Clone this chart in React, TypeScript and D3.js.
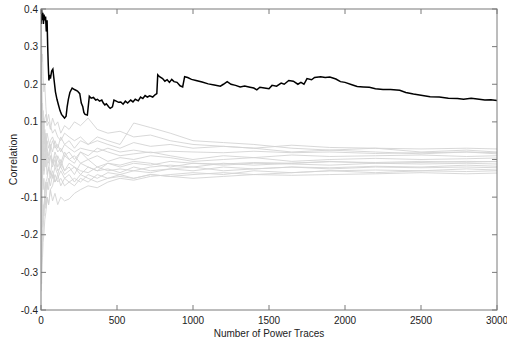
import React from "react";
import * as d3 from "d3";

const W = 507;
const H = 344;
const M = { left: 41, right: 10, top: 9, bottom: 34 };

const xTicks = [0, 500, 1000, 1500, 2000, 2500, 3000];
const yTicks = [-0.4, -0.3, -0.2, -0.1, 0, 0.1, 0.2, 0.3, 0.4];
const yTickLabels = ["-0.4", "-0.3", "-0.2", "-0.1", "0", "0.1", "0.2", "0.3", "0.4"];

const xLabel = "Number of Power Traces";
const yLabel = "Correlation";

// correct-key trace: [number of traces, correlation]
const correctKey: [number, number][] = [
  [1, 0.36], [4, 0.4], [8, 0.37], [12, 0.39], [16, 0.36], [20, 0.385], [25, 0.37], [30, 0.38],
  [35, 0.34], [40, 0.37], [44, 0.3], [48, 0.25], [52, 0.21], [57, 0.225], [62, 0.215], [70, 0.235],
  [78, 0.24], [85, 0.215], [95, 0.18], [105, 0.16], [115, 0.145], [125, 0.13], [135, 0.12],
  [145, 0.115], [155, 0.11], [165, 0.115], [172, 0.14], [180, 0.16], [190, 0.178], [205, 0.19],
  [220, 0.186], [240, 0.182], [255, 0.175], [265, 0.15], [275, 0.14], [282, 0.125], [290, 0.12],
  [305, 0.118], [318, 0.168], [330, 0.163], [345, 0.165], [360, 0.158], [372, 0.16], [385, 0.155],
  [400, 0.158], [410, 0.15], [420, 0.145], [430, 0.148], [445, 0.14], [455, 0.136], [470, 0.14],
  [480, 0.158], [495, 0.155], [510, 0.152], [525, 0.153], [540, 0.147], [555, 0.155], [570, 0.15],
  [590, 0.158], [605, 0.153], [620, 0.16], [640, 0.156], [655, 0.166], [670, 0.162], [685, 0.17],
  [700, 0.166], [715, 0.169], [735, 0.166], [750, 0.172], [762, 0.175], [768, 0.225], [780, 0.22],
  [800, 0.215], [815, 0.208], [830, 0.212], [845, 0.205], [860, 0.213], [875, 0.207], [895, 0.205],
  [915, 0.196], [932, 0.193], [945, 0.22], [965, 0.218], [990, 0.213], [1020, 0.21], [1060, 0.206],
  [1100, 0.201], [1140, 0.198], [1180, 0.195], [1200, 0.2], [1225, 0.207], [1250, 0.2], [1280, 0.197],
  [1310, 0.193], [1340, 0.195], [1375, 0.192], [1400, 0.19], [1420, 0.185], [1440, 0.192],
  [1470, 0.19], [1500, 0.188], [1520, 0.197], [1550, 0.195], [1580, 0.203], [1600, 0.2],
  [1630, 0.21], [1660, 0.208], [1690, 0.2], [1710, 0.205], [1730, 0.2], [1750, 0.215], [1780, 0.212],
  [1800, 0.218], [1840, 0.22], [1870, 0.218], [1900, 0.219], [1940, 0.214], [1970, 0.207],
  [2000, 0.205], [2050, 0.198], [2080, 0.194], [2120, 0.193], [2160, 0.192], [2200, 0.188],
  [2250, 0.186], [2300, 0.186], [2360, 0.184], [2400, 0.178], [2450, 0.174], [2500, 0.171],
  [2560, 0.167], [2620, 0.166], [2680, 0.163], [2740, 0.162], [2780, 0.16], [2830, 0.163],
  [2870, 0.161], [2920, 0.158], [2960, 0.159], [3000, 0.157],
];

// wrong-key traces sampled at these trace counts
const wrongGrid = [1, 2, 4, 7, 10, 14, 19, 25, 32, 40, 50, 62, 76, 92, 110, 130, 155, 185, 220, 260,
  310, 370, 440, 520, 610, 720, 850, 1000, 1200, 1400, 1650, 1900, 2200, 2500, 2800, 3000];

const wrong1 = [0.36, 0.3, 0.32, 0.26, 0.28, 0.22, 0.18, 0.2, 0.14, 0.1, 0.12, 0.09, 0.07, 0.08, 0.06, 0.05, 0.07, 0.06, 0.05, 0.06, 0.04, 0.05, 0.04, 0.03, 0.045, 0.035, 0.04, 0.03, 0.035, 0.03, 0.038, 0.032, 0.03, 0.028, 0.03, 0.028];
const wrong2 = [-0.05, 0.1, 0.05, 0.12, 0.08, 0.04, 0.06, 0.02, 0.05, 0.03, 0.01, 0.04, 0.02, 0.05, 0.03, 0.06, 0.04, 0.05, 0.03, 0.05, 0.04, 0.06, 0.05, 0.04, 0.097, 0.085, 0.07, 0.05, 0.045, 0.04, 0.03, 0.025, 0.03, 0.02, 0.025, 0.02];
const wrong3 = [0.2, -0.1, 0.05, 0.15, 0.1, 0.13, 0.08, 0.11, 0.12, 0.09, 0.1, 0.08, 0.11, 0.09, 0.1, 0.07, 0.09, 0.08, 0.1, 0.09, 0.11, 0.08, 0.07, 0.075, 0.06, 0.065, 0.05, 0.04, 0.035, 0.03, 0.02, 0.025, 0.02, 0.015, 0.02, 0.015];
const wrong4 = [-0.3, -0.2, -0.1, -0.05, 0.02, -0.03, 0.04, 0.06, 0.02, 0.05, 0.03, 0.05, 0.06, 0.04, 0.02, 0.03, 0.01, 0.02, 0.0, 0.02, 0.01, 0.03, 0.02, 0.01, 0.015, 0.02, 0.01, 0.0, 0.01, 0.005, 0.012, 0.008, 0.01, 0.012, 0.008, 0.01];
const wrong5 = [0.1, 0.25, 0.15, 0.05, -0.05, 0.0, -0.04, -0.02, 0.03, 0.0, -0.03, 0.01, -0.01, 0.02, 0.0, -0.02, 0.01, 0.0, -0.01, 0.02, 0.0, 0.01, -0.005, 0.005, 0.0, 0.01, 0.005, -0.005, 0.0, 0.005, -0.005, 0.0, 0.003, 0.0, 0.002, 0.004];
const wrong6 = [-0.2, -0.28, -0.3, -0.25, -0.22, -0.18, -0.15, -0.1, -0.12, -0.06, -0.08, -0.03, -0.05, -0.02, -0.04, -0.01, -0.03, -0.02, -0.04, -0.01, -0.02, -0.03, -0.01, -0.02, -0.01, -0.015, -0.005, -0.01, -0.012, -0.008, -0.01, -0.006, -0.008, -0.005, -0.007, -0.005];
const wrong7 = [0.3, 0.05, -0.15, -0.1, -0.18, -0.12, -0.15, -0.09, -0.13, -0.1, -0.12, -0.08, -0.11, -0.09, -0.12, -0.1, -0.11, -0.105, -0.09, -0.08, -0.07, -0.075, -0.06, -0.05, -0.055, -0.045, -0.04, -0.035, -0.04, -0.03, -0.035, -0.03, -0.028, -0.03, -0.025, -0.028];
const wrong8 = [-0.35, -0.3, -0.33, -0.28, -0.26, -0.22, -0.2, -0.16, -0.14, -0.1, -0.12, -0.08, -0.07, -0.04, -0.06, -0.05, -0.07, -0.06, -0.05, -0.06, -0.04, -0.05, -0.035, -0.04, -0.03, -0.035, -0.025, -0.03, -0.02, -0.025, -0.02, -0.022, -0.018, -0.02, -0.015, -0.018];
const wrong9 = [0.25, 0.35, 0.2, 0.1, 0.15, 0.06, 0.09, 0.04, 0.07, 0.02, 0.0, 0.03, -0.01, 0.01, -0.02, 0.0, -0.03, -0.01, -0.02, -0.04, -0.02, -0.03, -0.025, -0.035, -0.02, -0.03, -0.025, -0.02, -0.03, -0.025, -0.02, -0.025, -0.02, -0.022, -0.02, -0.022];
const wrong10 = [-0.1, 0.05, 0.12, 0.06, 0.0, 0.05, -0.02, 0.03, 0.0, -0.04, -0.02, -0.05, -0.03, -0.06, -0.04, -0.07, -0.05, -0.06, -0.07, -0.05, -0.06, -0.04, -0.05, -0.045, -0.05, -0.04, -0.045, -0.04, -0.035, -0.04, -0.035, -0.03, -0.035, -0.03, -0.032, -0.03];
const wrong11 = [0.15, -0.15, -0.22, -0.26, -0.2, -0.16, -0.12, -0.1, -0.06, -0.05, -0.02, -0.04, 0.0, -0.02, 0.01, -0.01, 0.02, 0.0, 0.01, -0.01, 0.0, -0.02, -0.01, -0.015, -0.005, -0.01, -0.02, -0.01, -0.015, -0.01, -0.012, -0.015, -0.01, -0.012, -0.01, -0.012];
const wrong12 = [0.4, 0.2, 0.28, 0.15, 0.08, 0.11, 0.05, 0.08, 0.04, 0.07, 0.05, 0.03, 0.05, 0.03, 0.04, 0.02, 0.04, 0.03, 0.02, 0.03, 0.025, 0.02, 0.03, 0.02, 0.025, 0.018, 0.022, 0.02, 0.018, 0.022, 0.018, 0.02, 0.016, 0.018, 0.02, 0.018];
const wrong13 = [-0.25, -0.05, 0.08, 0.0, 0.05, 0.02, -0.03, 0.01, -0.02, 0.02, -0.01, 0.01, -0.02, 0.0, -0.03, -0.02, -0.04, -0.03, -0.02, -0.03, -0.035, -0.02, -0.03, -0.025, -0.03, -0.02, -0.015, -0.02, -0.01, -0.015, -0.01, -0.005, -0.01, -0.008, -0.005, -0.006];
const wrong14 = [0.05, -0.22, -0.18, -0.08, -0.04, -0.08, -0.05, -0.09, -0.06, -0.08, -0.05, -0.07, -0.04, -0.06, -0.05, -0.03, -0.05, -0.04, -0.06, -0.04, -0.05, -0.06, -0.05, -0.04, -0.05, -0.04, -0.045, -0.05, -0.045, -0.04, -0.042, -0.04, -0.038, -0.035, -0.038, -0.036];

const wrongKeys = [wrong1, wrong2, wrong3, wrong4, wrong5, wrong6, wrong7, wrong8, wrong9, wrong10, wrong11, wrong12, wrong13, wrong14];

export default function App() {
  const x = d3.scaleLinear().domain([0, 3000]).range([M.left, W - M.right]);
  const y = d3.scaleLinear().domain([-0.4, 0.4]).range([H - M.bottom, M.top]);
  const line = d3.line<[number, number]>().x((d) => x(d[0])).y((d) => y(d[1]));

  const x0 = x(0), x1 = x(3000), y0 = y(-0.4), y1 = y(0.4);
  const axisColor = "#7a7a7a";
  const font = "'Liberation Sans', Arial, Helvetica, sans-serif";
  const tl = 5;

  return (
    <svg
      width={W}
      height={H}
      style={{ position: "fixed", left: 0, top: 0, background: "#fff" }}
      fontFamily={font}
    >
      <rect x={0} y={0} width={W} height={H} fill="#fff" />
      <defs>
        <clipPath id="plot">
          <rect x={x0} y={y1} width={x1 - x0} height={y0 - y1} />
        </clipPath>
      </defs>
      <g clipPath="url(#plot)">
        {wrongKeys.map((vals, i) => (
          <path
            key={i}
            d={line(wrongGrid.map((n, j) => [n, vals[j]] as [number, number])) || ""}
            fill="none"
            stroke="#d4d4d4"
            strokeWidth={0.9}
          />
        ))}
        <path d={line(correctKey) || ""} fill="none" stroke="#000" strokeWidth={1.5} />
      </g>
      <rect x={x0} y={y1} width={x1 - x0} height={y0 - y1} fill="none" stroke={axisColor} strokeWidth={1} />
      {xTicks.map((t) => (
        <g key={"x" + t}>
          <line x1={x(t)} x2={x(t)} y1={y0} y2={y0 - tl} stroke={axisColor} />
          <line x1={x(t)} x2={x(t)} y1={y1} y2={y1 + tl} stroke={axisColor} />
          <text x={x(t)} y={y0 + 14} fontSize={10} textAnchor="middle" fill="#222">
            {t}
          </text>
        </g>
      ))}
      {yTicks.map((t, i) => (
        <g key={"y" + t}>
          <line x1={x0} x2={x0 + tl} y1={y(t)} y2={y(t)} stroke={axisColor} />
          <line x1={x1} x2={x1 - tl} y1={y(t)} y2={y(t)} stroke={axisColor} />
          <text x={x0 - 3} y={y(t) + 3.5} fontSize={10} textAnchor="end" fill="#222">
            {yTickLabels[i]}
          </text>
        </g>
      ))}
      <text x={(x0 + x1) / 2} y={H - 7} fontSize={10} textAnchor="middle" fill="#222">
        {xLabel}
      </text>
      <text
        transform={`translate(17,${(y0 + y1) / 2}) rotate(-90)`}
        fontSize={10.5}
        textAnchor="middle"
        fill="#222"
      >
        {yLabel}
      </text>
    </svg>
  );
}
